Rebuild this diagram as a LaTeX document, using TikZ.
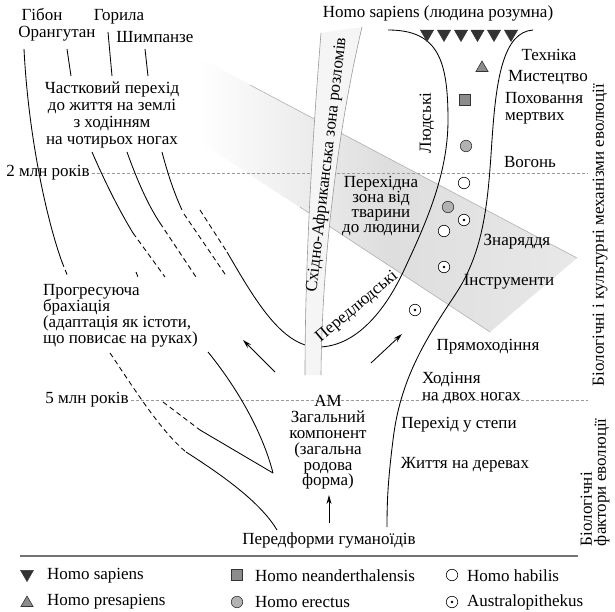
\documentclass[tikz,border=0pt]{standalone}
\usepackage{fontspec}
\setmainfont{Liberation Serif}
\usetikzlibrary{arrows.meta,shapes.geometric}
\begin{document}
\begin{tikzpicture}[x=1pt,y=-1pt,
  every node/.style={inner sep=0pt, outer sep=0pt, font=\fontsize{17}{16.5}\selectfont},
  curve/.style={line width=0.85pt, black},
  dsh/.style={line width=0.85pt, black, dash pattern=on 5pt off 3.5pt},
  era/.style={black!40, line width=0.6pt, dash pattern=on 3pt off 2pt},
  bandedge/.style={black!30, line width=0.6pt},
  riftedge/.style={black!40, line width=0.6pt},
  arr/.style={line width=0.85pt, -{Stealth[length=9pt,width=5pt]}},
  sapT/.style={regular polygon, regular polygon sides=3, shape border rotate=180, fill=black!80, draw=black!80, line width=0.5pt, minimum size=15pt},
  preT/.style={regular polygon, regular polygon sides=3, fill=black!45, draw=black!80, line width=0.6pt, minimum size=14pt},
  neaS/.style={rectangle, fill=black!45, draw=black!80, line width=0.6pt, minimum size=11pt},
  ereC/.style={circle, fill=black!30, draw=black!80, line width=0.6pt, minimum size=11.5pt},
  habC/.style={circle, fill=white, draw=black, line width=0.6pt, minimum size=11.5pt},
  ausC/.style={circle, fill=white, draw=black, line width=0.6pt, minimum size=11.5pt,
    path picture={\fill[black] (path picture bounding box.center) circle (1.3pt);}},
]
\useasboundingbox (0,0) rectangle (615,612);
\fill[white] (0,0) rectangle (615,612);

% transition band (grey, diagonal)
\shade[left color=white, right color=black!9, middle color=black!13]
  (198,57) -- (577,258) -- (490,332) -- (197,140) -- cycle;
\draw[bandedge] (250,85) -- (577,258);
\draw[bandedge] (300,207) -- (490,332);

% era lines
\node (t2) at (48,173) {2 млн років};
\node (t5) at (87,400) {5 млн років};
\coordinate (e2) at (588,173);
\coordinate (e5) at (588,399);
\draw[era] ([xshift=2pt]t2.east) -- (t2.east -| e2);
\draw[era] ([xshift=2pt]t5.east) -- (t5.east -| e5);

% left tree (apes)
\draw[curve] (24,49) .. controls (28,130) and (45,215) .. (62,262);
\draw[dsh] (62,262) -- (68,277);
\draw[curve] (67,49) -- (71,76);
\draw[curve] (108,32) -- (112,76);
\draw[curve] (145,49) -- (148,76);
\draw[curve] (92,152) .. controls (105,182) and (119,210) .. (133,233);
\draw[dsh] (133,233) -- (165,277);
\draw[dsh] (136,272) -- (138,277);
\draw[curve] (127,152) .. controls (137,180) and (148,205) .. (160,223);
\draw[dsh] (160,223) -- (196,277);
\draw[curve] (162,152) .. controls (168,175) and (175,195) .. (182,210);
\draw[dsh] (184,214) -- (227,277);
\draw[dsh] (200,210) -- (227,252);

% hominid U curve and right boundary
\draw[curve] (227,252) .. controls (255,300) and (282,347) .. (318,347)
  .. controls (355,347) and (385,312) .. (405,268)
  .. controls (425,225) and (448,175) .. (448,120)
  .. controls (448,60) and (438,30) .. (388,30);
\draw[curve] (533,30) .. controls (503,32) and (496,80) .. (492,140)
  .. controls (488,200) and (485,250) .. (455,295)
  .. controls (425,340) and (400,380) .. (393,440)
  .. controls (388,480) and (387,500) .. (387,527);

% lower left branches
\draw[curve] (208,352) .. controls (235,385) and (262,430) .. (273,473);
\draw[dsh] (163,402) -- (200,430);
\draw[curve] (200,430) -- (273,473);
\draw[dsh] (110,353) .. controls (135,390) and (160,430) .. (186,452);
\draw[curve] (186,452) .. controls (230,480) and (262,505) .. (277,530);

% East African rift band
\fill[black!4] (321,33) .. controls (314,120) and (305,250) .. (305,375) -- (321,375)
  .. controls (322,250) and (340,120) .. (362,27) -- cycle;
\draw[riftedge] (321,33) .. controls (314,120) and (305,250) .. (305,375);
\draw[riftedge] (321,375) .. controls (322,250) and (340,120) .. (362,27);
\node[rotate=83.4] (rift) at (327,165) {Східно-Африканська зона розломів};

% texts left
\node (gib) at (42,15) {Гібон};
\node (gor) at (119,17) {Горила};
\node (oran) at (57,34) {Орангутан};
\node (chimp) at (155,37.5) {Шимпанзе};
\node[align=center, font=\fontsize{17}{16.7}\selectfont] (part) at (112,115)
  {Частковий перехід\\до життя на землі\\з ходінням\\на чотирьох ногах};
\node[anchor=west, align=left, font=\fontsize{17}{16}\selectfont] (brach) at (43,316)
  {Прогресуюча\\брахіація\\(адаптація як істоти,\\що повисає на руках)};
\node[align=center, font=\fontsize{17}{15.8}\selectfont] (am) at (328,442.5)
  {АМ\\Загальний\\компонент\\(загальна\\родова\\форма)};
\node (pre) at (329,540) {Передформи гуманоїдів};

% texts right
\node (hs) at (438,13) {Homo sapiens (людина розумна)};
\node[rotate=90] (hum) at (427,123) {Людські};
\node[rotate=40] (prehum) at (357,307) {Передлюдські};
\node[align=center, font=\fontsize{17}{15.3}\selectfont] (trans) at (381,206)
  {Перехідна\\зона від\\тварини\\до людини};
\node (tech) at (549,55) {Техніка};
\node (art) at (548,78) {Мистецтво};
\node[anchor=west, align=left, font=\fontsize{17}{17}\selectfont] (bur) at (505,108.5) {Поховання\\мертвих};
\node (fire) at (530,162) {Вогонь};
\node (tools) at (517,242) {Знаряддя};
\node (instr) at (509,282) {Інструменти};
\node (bip) at (488,347) {Прямоходіння};
\node[anchor=west, align=left, font=\fontsize{17}{17}\selectfont] (walk) at (422,388.5) {Ходіння\\на двох ногах};
\node (steppe) at (459,425) {Перехід у степи};
\node (trees) at (465,465) {Життя на деревах};
\node[rotate=90] (biocult) at (600,235) {Біологічні і культурні механізми еволюції};
\node[rotate=90, anchor=west, align=left, font=\fontsize{17}{14}\selectfont] (bio) at (595,546) {Біологічні\\фактори еволюції};

% arrows
\coordinate (a1s) at (275,372); \coordinate (a1e) at (243,340);
\coordinate (a2s) at (371,363); \coordinate (a2e) at (402,334);
\coordinate (a3s) at (329,523); \coordinate (a3e) at (329,495);
\draw[arr] (a1s) -- (a1e);
\draw[arr] (a2s) -- (a2e);
\draw[arr] (a3s) -- (a3e);

% species markers
\foreach \x [count=\i] in {427,444,461,477.5,494,511} {\node[sapT] (hs\i) at (\x,34) {};}
\node[preT] (m1) at (482,68) {};
\node[neaS] (m2) at (465,100) {};
\node[ereC] (m3) at (466,146) {};
\node[habC] (m4) at (464,183) {};
\node[ereC] (m5) at (448,207) {};
\node[ausC] (m6) at (464,220) {};
\node[habC] (m7) at (444,231) {};
\node[ausC] (m8) at (444,267) {};
\node[ausC] (m9) at (415,310) {};

% legend
\draw[black!55, line width=1.2pt] (20,556) -- (578,556);
\node[sapT] (l1) at (27,574) {};
\node[anchor=west] (l1t) at (47,576) {Homo sapiens};
\node[preT] (l2) at (27,603) {};
\node[anchor=west] (l2t) at (47,602) {Homo presapiens};
\node[neaS] (l3) at (237,575) {};
\node[anchor=west] (l3t) at (255,576) {Homo neanderthalensis};
\node[ereC] (l4) at (237,602) {};
\node[anchor=west] (l4t) at (255,602) {Homo erectus};
\node[habC] (l5) at (452,575) {};
\node[anchor=west] (l5t) at (467,576) {Homo habilis};
\node[ausC] (l6) at (452,602) {};
\node[anchor=west] (l6t) at (467,602) {Australopithekus};
\end{tikzpicture}
\end{document}
